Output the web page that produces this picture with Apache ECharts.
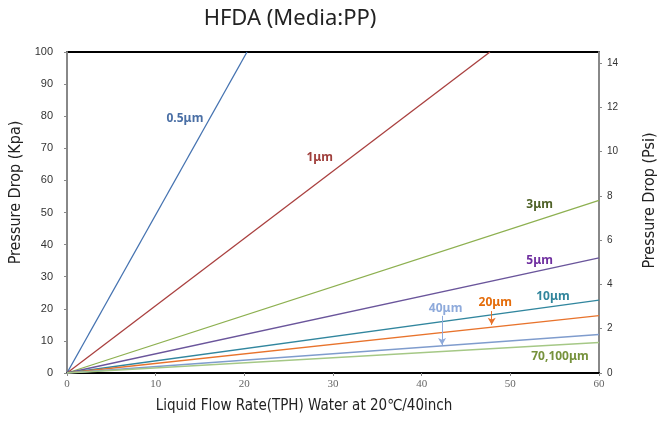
<!DOCTYPE html>
<html>
<head>
<meta charset="utf-8">
<script src="https://cdn.jsdelivr.net/npm/echarts@6/dist/echarts.min.js"></script>
<style>
  html, body { margin: 0; padding: 0; background: #fff; }
  #main { width: 662px; height: 423px; }
</style>
</head>
<body>
<div id="main"></div>
<script>
// 各精度滤芯的压降曲线 (x: TPH, y: kPa)
var halfUm = [[0, 0], [20.3, 100]];
var oneUm = [[0, 0], [47.7, 100]];
var threeUm = [[0, 0], [60, 53.8]];
var fiveUm = [[0, 0], [60, 35.9]];
var tenUm = [[0, 0], [60, 22.7]];
var twentyUm = [[0, 0], [60, 17.9]];
var fortyUm = [[0, 0], [60, 12.0]];
var seventyUm = [[0, 0], [60, 9.5]];

var seriesNames = ['0.5μm', '1μm', '3μm', '5μm', '10μm', '20μm', '40μm', '70,100μm'];

var nameFont = "'DejaVu Sans Condensed', 'Liberation Sans Narrow', 'Noto Sans'";

function makeLine(name, data, color, labelCoord, labelColor) {
	return {
		name: name,
		type: 'line',
		data: data,
		symbol: 'none',
		silent: true,
		lineStyle: { color: color, width: 1.3 },
		markPoint: {
			symbol: 'circle',
			symbolSize: 1,
			itemStyle: { color: 'rgba(0,0,0,0)' },
			label: {
				show: true,
				position: 'inside',
				formatter: name,
				color: labelColor,
				fontFamily: 'Noto Sans',
				fontWeight: 'bold',
				fontSize: 12
			},
			data: [{ coord: labelCoord }]
		}
	};
}

function arrow(x, y1, y2, color) {
	return {
		silent: true,
		symbol: ['none', 'arrow'],
		symbolSize: [6, 7],
		lineStyle: { color: color, width: 1, type: 'solid' },
		label: { show: false },
		data: [[{ coord: [x, y1] }, { coord: [x, y2] }]]
	};
}

var myChart = echarts.init(document.getElementById('main'));

var s20 = makeLine(seriesNames[5], twentyUm, '#E8732C', [48.3, 21.8], '#E46C0A');
s20.markLine = arrow(47.9, 19.3, 15.0, '#E8732C');
var s40 = makeLine(seriesNames[6], fortyUm, '#7F9CCD', [42.7, 20.2], '#8EAADB');
s40.markLine = arrow(42.3, 17.8, 8.7, '#8EAADB');

var option = {
	animation: false,
	title: {
		text: 'HFDA (Media:PP)',
		left: 285,
		textAlign: 'center',
		top: 3,
		textStyle: { fontFamily: 'Noto Sans', fontWeight: 'normal', fontSize: 22, color: '#222' }
	},
	grid: {
		left: 67, right: 63, top: 52, bottom: 50,
		outerBoundsMode: 'none',
		containLabel: false,
		show: true, borderColor: '#000', borderWidth: 2, backgroundColor: '#fff'
	},
	xAxis: {
		type: 'value',
		min: 0, max: 60, interval: 10,
		name: 'Liquid Flow Rate(TPH) Water at 20℃/40inch',
		nameLocation: 'middle',
		nameGap: 26,
		nameTextStyle: { fontFamily: nameFont, fontSize: 15, color: '#222', padding: [0, 58, 0, 0] },
		axisLine: { lineStyle: { color: '#000', width: 2 } },
		axisTick: { show: true, length: 3, lineStyle: { color: '#888' } },
		axisLabel: { fontFamily: 'Liberation Serif', fontSize: 11, color: '#666', margin: 6 },
		splitLine: { show: false }
	},
	yAxis: [{
		type: 'value',
		min: 0, max: 100, interval: 10,
		name: 'Pressure Drop (Kpa)',
		nameLocation: 'middle',
		nameGap: 40,
		nameTextStyle: { fontFamily: nameFont, fontSize: 16, color: '#222', padding: [0, 0, 0, 40] },
		axisLine: { show: true, lineStyle: { color: '#888', width: 2 } },
		axisTick: { show: true, length: 3, lineStyle: { color: '#888' } },
		axisLabel: { fontFamily: 'Liberation Sans', fontSize: 11, color: '#333', margin: 14 },
		splitLine: { show: false }
	}, {
		type: 'value',
		position: 'right',
		min: 0, max: 14.5, interval: 2,
		name: 'Pressure Drop (Psi)',
		nameLocation: 'middle',
		nameGap: 43,
		nameTextStyle: { fontFamily: nameFont, fontSize: 16, color: '#222', padding: [0, 0, 0, 24] },
		axisLine: { show: true, lineStyle: { color: '#888', width: 2 } },
		axisTick: { show: true, length: 3, lineStyle: { color: '#888' } },
		axisLabel: { fontFamily: 'Liberation Sans', fontSize: 10, color: '#333', margin: 8, showMaxLabel: false },
		splitLine: { show: false }
	}],
	series: [
		makeLine(seriesNames[0], halfUm, '#4472B0', [13.3, 79.4], '#4A6FA5'),
		makeLine(seriesNames[1], oneUm, '#A9403F', [28.5, 67], '#A0403D'),
		makeLine(seriesNames[2], threeUm, '#8DB050', [53.3, 52.6], '#4F6228'),
		makeLine(seriesNames[3], fiveUm, '#6A559B', [53.3, 34.9], '#7030A0'),
		makeLine(seriesNames[4], tenUm, '#31869E', [54.8, 23.7], '#31859C'),
		s20,
		s40,
		makeLine(seriesNames[7], seventyUm, '#A5C886', [55.6, 5.0], '#76923C')
	]
};
myChart.setOption(option);
</script>
</body>
</html>
